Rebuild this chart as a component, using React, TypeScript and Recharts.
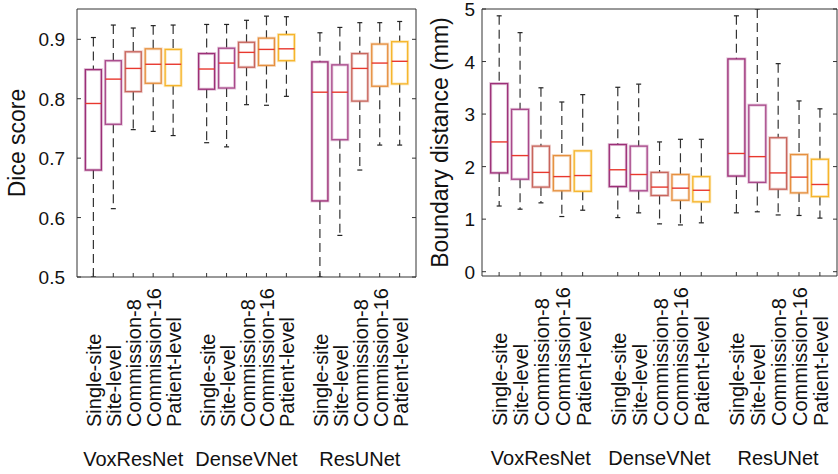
import { ComposedChart, Bar, XAxis, YAxis, ReferenceLine } from 'recharts'

const methods = ['Single-site', 'Site-level', 'Commission-8', 'Commission-16', 'Patient-level']
const networks = ['VoxResNet', 'DenseVNet', 'ResUNet']
const methodColors = ['#9c2f78', '#a9498b', '#c8655c', '#e6903f', '#f6b52b']

// Dice score boxes, order: VoxResNet x5, DenseVNet x5, ResUNet x5
const diceMin = [0.5, 0.615, 0.748, 0.745, 0.738, 0.726, 0.719, 0.79, 0.789, 0.804, 0.5, 0.57, 0.68, 0.722, 0.722]
const diceQ1 = [0.68, 0.757, 0.812, 0.826, 0.822, 0.816, 0.818, 0.853, 0.856, 0.864, 0.628, 0.731, 0.796, 0.821, 0.825]
const diceMedian = [0.792, 0.833, 0.851, 0.858, 0.858, 0.85, 0.86, 0.878, 0.883, 0.884, 0.811, 0.811, 0.851, 0.86, 0.863]
const diceQ3 = [0.849, 0.864, 0.879, 0.884, 0.883, 0.876, 0.885, 0.895, 0.902, 0.908, 0.862, 0.857, 0.876, 0.892, 0.896]
const diceMax = [0.903, 0.924, 0.919, 0.923, 0.924, 0.925, 0.925, 0.932, 0.939, 0.938, 0.911, 0.92, 0.928, 0.928, 0.93]

// Boundary distance (mm)
const bdMin = [1.25, 1.19, 1.31, 1.05, 1.17, 1.03, 1.12, 0.91, 0.89, 0.93, 1.12, 1.14, 1.08, 1.07, 1.02]
const bdQ1 = [1.88, 1.76, 1.61, 1.54, 1.53, 1.62, 1.54, 1.45, 1.36, 1.33, 1.82, 1.7, 1.57, 1.5, 1.43]
const bdMedian = [2.47, 2.21, 1.89, 1.81, 1.83, 1.94, 1.85, 1.61, 1.59, 1.55, 2.25, 2.19, 1.88, 1.8, 1.66]
const bdQ3 = [3.58, 3.09, 2.39, 2.21, 2.3, 2.42, 2.39, 1.89, 1.85, 1.81, 4.05, 3.17, 2.55, 2.23, 2.14]
const bdMax = [4.87, 4.55, 3.5, 3.23, 3.37, 3.51, 3.57, 2.47, 2.52, 2.52, 4.87, 5.0, 3.96, 3.25, 3.1]

const diceTicks = [0.5, 0.6, 0.7, 0.8, 0.9]
const bdTicks = [0, 1, 2, 3, 4, 5]

const FONT = '"Liberation Sans", Arial, Helvetica, sans-serif'
const AXIS = '#333'
const groupStep = 5.68
const positions = networks.flatMap((_, g) => methods.map((_, m) => g * groupStep + m))
const xDomain: [number, number] = [-0.82, 16.18]

type Row = { pos: number; range: [number, number]; min: number; q1: number; med: number; q3: number; max: number; color: string }

function buildRows(min: number[], q1: number[], med: number[], q3: number[], max: number[]): Row[] {
  return positions.map((pos, i) => ({
    pos,
    range: [min[i], max[i]],
    min: min[i],
    q1: q1[i],
    med: med[i],
    q3: q3[i],
    max: max[i],
    color: methodColors[i % methods.length],
  }))
}

const diceRows = buildRows(diceMin, diceQ1, diceMedian, diceQ3, diceMax)
const bdRows = buildRows(bdMin, bdQ1, bdMedian, bdQ3, bdMax)

function BoxShape(props: any) {
  const { x, y, width, height, payload } = props
  if (x == null || !payload) return null
  const { min, q1, med, q3, max, color } = payload as Row
  // bar spans [min, max]; inner points follow the same linear scale
  const py = (v: number) => y + (height * (max - v)) / (max - min)
  const cx = x + width / 2
  return (
    <g>
      <line x1={cx} x2={cx} y1={py(max)} y2={py(q3)} stroke={AXIS} strokeWidth={1.2} strokeDasharray="9 5" />
      <line x1={cx} x2={cx} y1={py(q1)} y2={py(min)} stroke={AXIS} strokeWidth={1.2} strokeDasharray="9 5" />
      <line x1={cx - 2.5} x2={cx + 2.5} y1={py(max)} y2={py(max)} stroke="#222" strokeWidth={1.2} />
      <line x1={cx - 2.5} x2={cx + 2.5} y1={py(min)} y2={py(min)} stroke="#222" strokeWidth={1.2} />
      <rect x={x} y={py(q3)} width={width} height={py(q1) - py(q3)} fill="none" stroke={color} strokeOpacity={0.3} strokeWidth={3} />
      <rect x={x} y={py(q3)} width={width} height={py(q1) - py(q3)} fill="none" stroke={color} strokeWidth={1.3} />
      <line x1={x} x2={x + width} y1={py(med)} y2={py(med)} stroke="#e8382e" strokeWidth={1.4} />
    </g>
  )
}

function XTick(props: any) {
  const { x, y, payload } = props
  const i = positions.findIndex(p => Math.abs(p - payload.value) < 1e-6)
  if (i < 0) return null
  const m = i % methods.length
  const ly = y + 150
  return (
    <g>
      <line x1={x} x2={x} y1={y} y2={y - 4} stroke={AXIS} />
      <text transform={`rotate(-90, ${x}, ${ly})`} x={x} y={ly} dy={8} fontSize={20} fill="#111" fontFamily={FONT}>
        {methods[m]}
      </text>
      {m === 2 && (
        <text x={x} y={y + 189} textAnchor="middle" fontSize={20} fill="#111" fontFamily={FONT}>
          {networks[Math.floor(i / methods.length)]}
        </text>
      )}
    </g>
  )
}

interface PanelProps {
  rows: Row[]
  width: number
  yWidth: number
  rightWidth: number
  yDomain: [number, number]
  ticks: number[]
  digits: number
  tickGap: number
  title: string
  titleX: number
  barSize: number
  bottom: number
}

function Panel({ rows, width, yWidth, rightWidth, yDomain, ticks, digits, tickGap, title, titleX, barSize, bottom }: PanelProps) {
  const YTick = ({ x, y, payload }: any) => (
    <g>
      <line x1={x + tickGap} x2={x + tickGap + 4} y1={y} y2={y} stroke={AXIS} />
      <text x={x} y={y} dy={7} textAnchor="end" fontSize={19} fill="#111" fontFamily={FONT}>
        {payload.value.toFixed(digits)}
      </text>
    </g>
  )
  const RTick = ({ x, y }: any) => <line x1={x - 4} x2={x} y1={y} y2={y} stroke={AXIS} />
  const YTitle = (p: any) => {
    const vb = p.viewBox
    const cx = vb.x + titleX
    const cy = vb.y + vb.height / 2
    return (
      <text transform={`rotate(-90, ${cx}, ${cy})`} x={cx} y={cy} textAnchor="middle" fontSize={23} fill="#111" fontFamily={FONT}>
        {title}
      </text>
    )
  }
  return (
    <ComposedChart width={width} height={474} data={rows} margin={{ top: 9, right: 0, bottom: 0, left: 0 }}>
      <XAxis
        type="number"
        dataKey="pos"
        domain={xDomain}
        allowDataOverflow
        ticks={positions}
        interval={0}
        height={bottom}
        tickSize={0}
        tickMargin={0}
        tickLine={false}
        axisLine={{ stroke: AXIS }}
        tick={<XTick />}
      />
      <YAxis
        type="number"
        domain={yDomain}
        allowDataOverflow
        ticks={ticks}
        interval={0}
        width={yWidth}
        tickSize={0}
        tickMargin={tickGap}
        tickLine={false}
        axisLine={{ stroke: AXIS }}
        tick={<YTick />}
        label={YTitle}
      />
      <YAxis
        yAxisId="r"
        orientation="right"
        type="number"
        domain={yDomain}
        allowDataOverflow
        ticks={ticks}
        interval={0}
        width={rightWidth}
        tickSize={0}
        tickMargin={0}
        tickLine={false}
        axisLine={{ stroke: AXIS }}
        tick={<RTick />}
      />
      <ReferenceLine y={yDomain[1]} stroke={AXIS} />
      <Bar dataKey="range" barSize={barSize} shape={(p: any) => <BoxShape {...p} />} isAnimationActive={false} />
    </ComposedChart>
  )
}

export default function App() {
  return (
    <div style={{ position: 'absolute', left: 0, top: 0, width: 838, height: 474, background: '#fff' }}>
      <div style={{ position: 'absolute', left: 0, top: 0 }}>
        <Panel
          rows={diceRows}
          width={420}
          yWidth={77}
          rightWidth={4}
          yDomain={[0.5, 0.951]}
          ticks={diceTicks}
          digits={1}
          tickGap={12}
          title="Dice score"
          titleX={25}
          barSize={16}
          bottom={197}
        />
      </div>
      <div style={{ position: 'absolute', left: 420, top: 0 }}>
        <Panel
          rows={bdRows}
          width={418}
          yWidth={62}
          rightWidth={1}
          yDomain={[-0.082, 5]}
          ticks={bdTicks}
          digits={0}
          tickGap={7}
          title="Boundary distance (mm)"
          titleX={28}
          barSize={17}
          bottom={198}
        />
      </div>
    </div>
  )
}
